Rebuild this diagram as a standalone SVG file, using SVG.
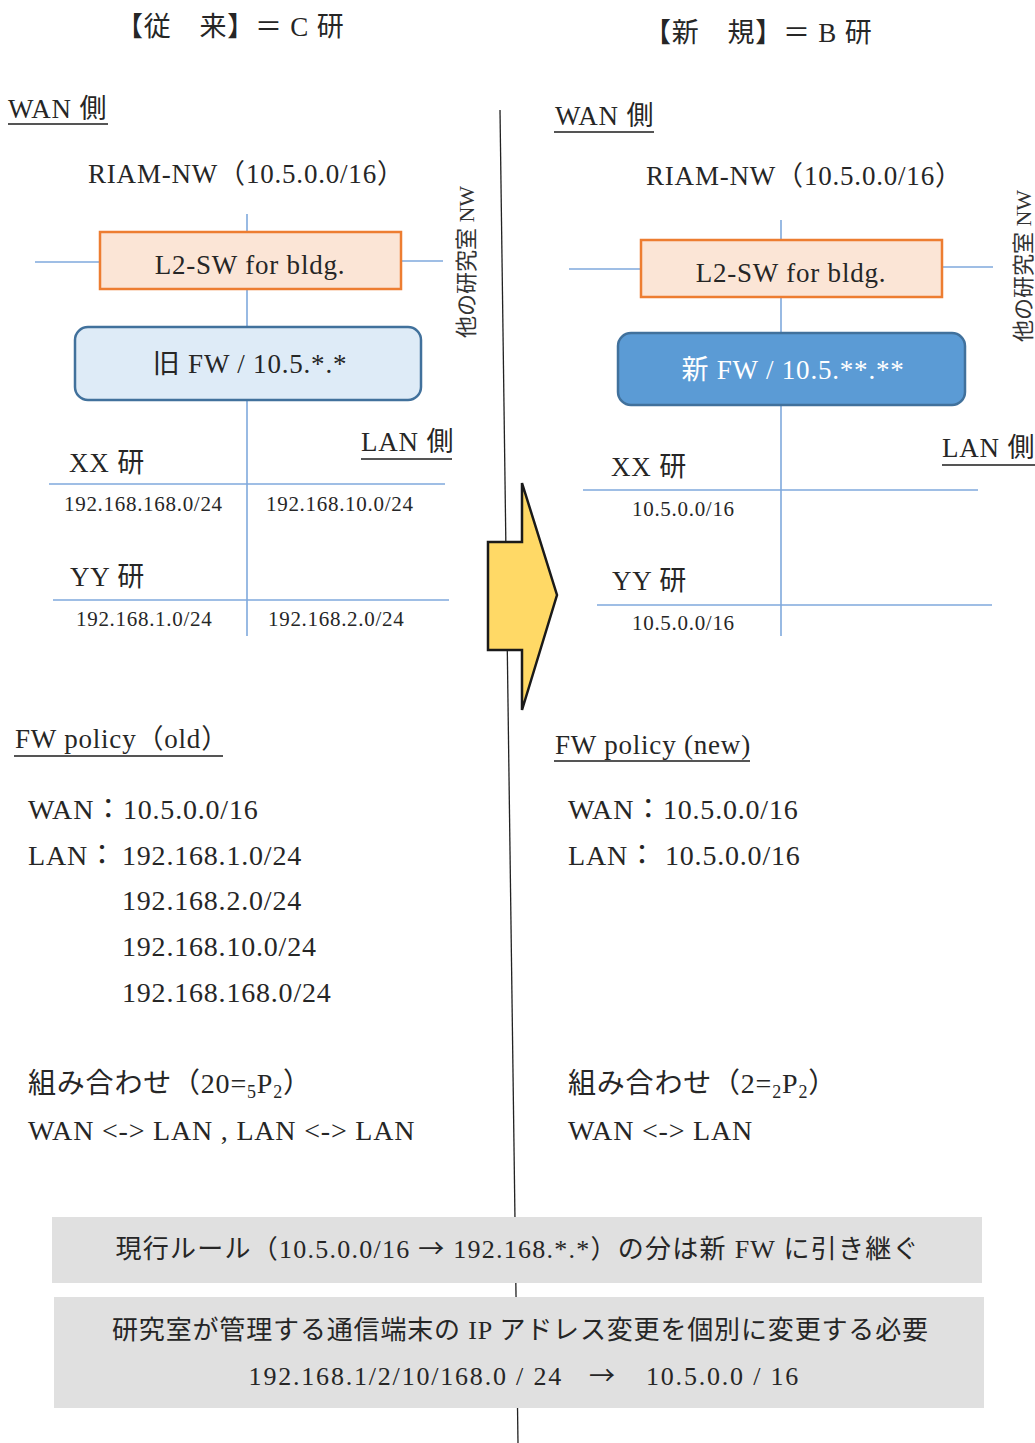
<svg xmlns="http://www.w3.org/2000/svg" width="1035" height="1443" viewBox="0 0 1035 1443">
<defs>
<style>
text{font-family:"Liberation Serif","Noto Sans CJK JP",serif;fill:#262626;font-size:27px;letter-spacing:0.8px}
.sm{font-size:21px;letter-spacing:0.7px}
.pol{font-size:28px;letter-spacing:0.8px}
.vt{font-size:22px;fill:#333;letter-spacing:0}
.note{font-size:26px;letter-spacing:0}
.cjk{font-family:"Noto Sans CJK JP",sans-serif}
.conn line{stroke:#7fa9dc;stroke-width:1.6}
.ul{stroke:#555;stroke-width:2}
.l2sw{fill:#fbe5d6;stroke:#ed7d31;stroke-width:2.5}
.fwold{fill:#deebf7;stroke:#41719c;stroke-width:2.5}
.fwnew{fill:#5b9bd5;stroke:#41719c;stroke-width:2.5}
.gbox{fill:#e0e0e0}
</style>
</defs>
<rect width="1035" height="1443" fill="#fff"/>

<!-- divider -->
<line id="divider" x1="500" y1="110" x2="518" y2="1443" stroke="#222" stroke-width="1.3"/>

<!-- titles -->
<text x="116" y="36">【従　来】＝ C 研</text>
<text x="644" y="42">【新　規】＝ B 研</text>

<!-- left header -->
<text x="8" y="118">WAN 側</text>
<line class="ul" x1="8" y1="124" x2="108" y2="124"/>
<text x="88" y="183">RIAM-NW（10.5.0.0/16）</text>
<text class="vt" transform="translate(474,262) rotate(-90)" text-anchor="middle">他の研究室 NW</text>

<!-- right header -->
<text x="555" y="125">WAN 側</text>
<line class="ul" x1="554" y1="132" x2="654" y2="132"/>
<text x="646" y="185">RIAM-NW（10.5.0.0/16）</text>
<text class="vt" transform="translate(1031,266) rotate(-90)" text-anchor="middle">他の研究室 NW</text>

<!-- connectors -->
<g id="connectors" class="conn">
<line x1="247" y1="214" x2="247" y2="232"/>
<line x1="247" y1="289" x2="247" y2="327"/>
<line x1="247" y1="400" x2="247" y2="636"/>
<line x1="35" y1="262" x2="100" y2="262"/>
<line x1="401" y1="261" x2="443" y2="261"/>
<line x1="49" y1="484" x2="445" y2="484"/>
<line x1="53" y1="600" x2="449" y2="600"/>
<line x1="781" y1="220" x2="781" y2="240"/>
<line x1="781" y1="297" x2="781" y2="333"/>
<line x1="781" y1="405" x2="781" y2="636"/>
<line x1="569" y1="269" x2="641" y2="269"/>
<line x1="942" y1="267" x2="993" y2="267"/>
<line x1="583" y1="490" x2="978" y2="490"/>
<line x1="597" y1="605" x2="992" y2="605"/>
</g>

<!-- nodes -->
<g id="l2sw-old">
<rect class="l2sw" x="100" y="232" width="301" height="57"/>
<text x="250" y="274" text-anchor="middle">L2-SW for bldg.</text>
</g>
<g id="fw-old">
<rect class="fwold" x="75" y="327" width="346" height="73" rx="13"/>
<text x="250" y="373" text-anchor="middle">旧 FW / 10.5.*.*</text>
</g>
<g id="l2sw-new">
<rect class="l2sw" x="641" y="240" width="301" height="57"/>
<text x="791" y="282" text-anchor="middle">L2-SW for bldg.</text>
</g>
<g id="fw-new">
<rect class="fwnew" x="618" y="333" width="347" height="72" rx="13"/>
<text x="793" y="379" text-anchor="middle" style="fill:#fff">新 FW / 10.5.**.**</text>
</g>

<!-- left LAN side -->
<g id="lan-old">
<text x="361" y="451">LAN 側</text>
<line class="ul" x1="361" y1="459" x2="452" y2="459"/>
<text x="69" y="472">XX 研</text>
<text class="sm" x="64" y="511">192.168.168.0/24</text>
<text class="sm" x="266" y="511">192.168.10.0/24</text>
<text x="70" y="586">YY 研</text>
<text class="sm" x="76" y="626">192.168.1.0/24</text>
<text class="sm" x="268" y="626">192.168.2.0/24</text>
</g>

<!-- right LAN side -->
<g id="lan-new">
<text x="942" y="457">LAN 側</text>
<line class="ul" x1="942" y1="465" x2="1035" y2="465"/>
<text x="611" y="476">XX 研</text>
<text class="sm" x="632" y="516">10.5.0.0/16</text>
<text x="612" y="590">YY 研</text>
<text class="sm" x="632" y="630">10.5.0.0/16</text>
</g>

<!-- arrow -->
<g id="arrow">
<polygon points="488,542 522,542 522,483 557,595 522,710 522,650 488,650" fill="#ffd966" stroke="#1a1a1a" stroke-width="2.5" stroke-linejoin="miter"/>
</g>

<!-- policy old -->
<g id="policy-old">
<text x="15" y="748">FW policy（old）</text>
<line class="ul" x1="14" y1="756" x2="223" y2="756"/>
<text class="pol" x="28" y="819">WAN：10.5.0.0/16</text>
<text class="pol" x="28" y="865">LAN：</text>
<text class="pol" x="122" y="865">192.168.1.0/24</text>
<text class="pol" x="122" y="910">192.168.2.0/24</text>
<text class="pol" x="122" y="956">192.168.10.0/24</text>
<text class="pol" x="122" y="1002">192.168.168.0/24</text>
<text class="pol" x="28" y="1093">組み合わせ（20=<tspan font-size="18" dy="5">5</tspan><tspan dy="-5">P</tspan><tspan font-size="18" dy="5">2</tspan><tspan dy="-5">）</tspan></text>
<text class="pol" x="28" y="1140">WAN &lt;-&gt; LAN , LAN &lt;-&gt; LAN</text>
</g>

<!-- policy new -->
<g id="policy-new">
<text x="555" y="754">FW policy (new)</text>
<line class="ul" x1="554" y1="761" x2="750" y2="761"/>
<text class="pol" x="568" y="819">WAN：10.5.0.0/16</text>
<text class="pol" x="568" y="865">LAN：</text>
<text class="pol" x="665" y="865">10.5.0.0/16</text>
<text class="pol" x="568" y="1093">組み合わせ（2=<tspan font-size="18" dy="5">2</tspan><tspan dy="-5">P</tspan><tspan font-size="18" dy="5">2</tspan><tspan dy="-5">）</tspan></text>
<text class="pol" x="568" y="1140">WAN &lt;-&gt; LAN</text>
</g>

<!-- notes -->
<g id="note1">
<rect class="gbox" x="52" y="1217" width="930" height="66"/>
<text class="note" x="517" y="1258" text-anchor="middle" textLength="803" lengthAdjust="spacing">現行ルール（10.5.0.0/16 <tspan class="cjk">→</tspan> 192.168.*.*）の分は新 FW に引き継ぐ</text>
</g>
<g id="note2">
<rect class="gbox" x="54" y="1297" width="930" height="111"/>
<text class="note" x="520" y="1339" text-anchor="middle" textLength="816" lengthAdjust="spacing">研究室が管理する通信端末の IP アドレス変更を個別に変更する必要</text>
<text class="note" y="1385" style="letter-spacing:1.8px"><tspan x="563" text-anchor="end">192.168.1/2/10/168.0 / 24</tspan><tspan class="cjk" x="603" text-anchor="middle">→</tspan><tspan x="646">10.5.0.0 / 16</tspan></text>
</g>
</svg>
